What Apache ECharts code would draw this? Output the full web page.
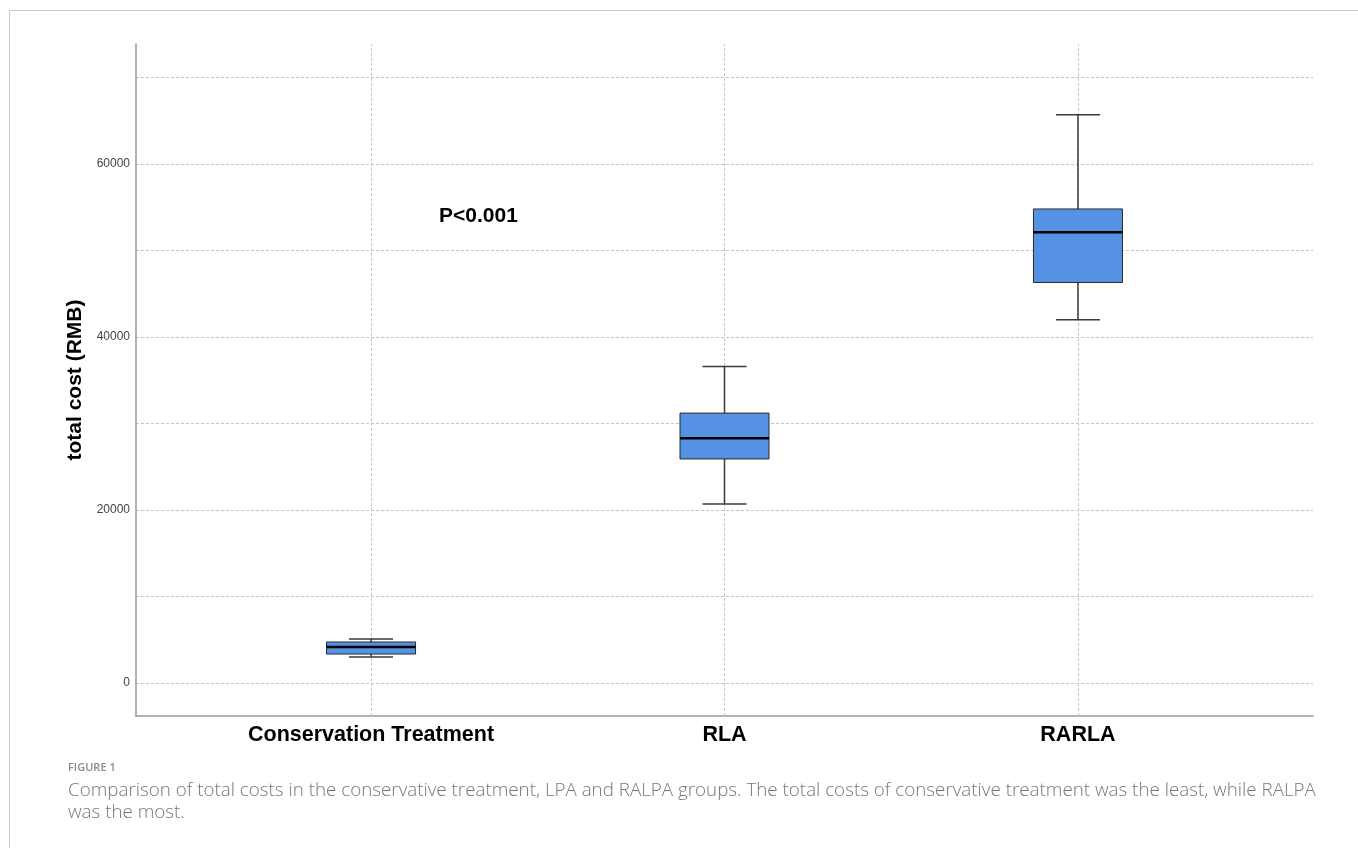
<!DOCTYPE html>
<html>
<head>
<meta charset="utf-8">
<script src="https://cdn.jsdelivr.net/npm/echarts@6/dist/echarts.min.js"></script>
<style>
html, body { margin: 0; padding: 0; background: #fff; }
#chart { width: 1358px; height: 848px; }
</style>
</head>
<body>
<div id="chart"></div>
<script>
// 分组与箱线图数值（从图上读取，单位 RMB）
var groups = ['Conservation Treatment', 'RLA', 'RARLA'];
var groupPos = [1, 2, 3];
var whiskerLow = [3000, 20700, 42000];
var quart1 = [3350, 25900, 46300];
var median = [4160, 28300, 52100];
var quart3 = [4740, 31200, 54800];
var whiskerHigh = [5090, 36600, 65700];
var yLabelValues = [0, 20000, 40000, 60000];

var boxData = [];
for (var i = 0; i < groups.length; i++) {
	boxData.push([groupPos[i], whiskerLow[i], quart1[i], median[i], quart3[i], whiskerHigh[i]]);
}
// 竖向网格线（每组中心）
var vLines = [];
for (var j = 0; j < groupPos.length; j++) {
	vLines.push({ xAxis: groupPos[j] });
}

function renderBox(params, api) {
	var x = api.value(0);
	var lo = api.coord([x, api.value(1)]);
	var q1 = api.coord([x, api.value(2)]);
	var md = api.coord([x, api.value(3)]);
	var q3 = api.coord([x, api.value(4)]);
	var hi = api.coord([x, api.value(5)]);
	var cx = lo[0];
	var halfBox = 44.5, halfCap = 22;
	var lineStyle = { stroke: '#3a3a3a', lineWidth: 1.5 };
	return {
		type: 'group',
		children: [
			{ type: 'line', shape: { x1: cx, y1: q3[1], x2: cx, y2: hi[1] }, style: lineStyle },
			{ type: 'line', shape: { x1: cx, y1: q1[1], x2: cx, y2: lo[1] }, style: lineStyle },
			{ type: 'line', shape: { x1: cx - halfCap, y1: hi[1], x2: cx + halfCap, y2: hi[1] }, style: lineStyle },
			{ type: 'line', shape: { x1: cx - halfCap, y1: lo[1], x2: cx + halfCap, y2: lo[1] }, style: lineStyle },
			{ type: 'rect', shape: { x: cx - halfBox, y: q3[1], width: halfBox * 2, height: q1[1] - q3[1] },
				style: { fill: '#5592e3', stroke: '#2b2b2b', lineWidth: 1 } },
			{ type: 'line', shape: { x1: cx - halfBox, y1: md[1], x2: cx + halfBox, y2: md[1] },
				style: { stroke: '#000', lineWidth: 2.5 } }
		]
	};
}

var option = {
	animation: false,
	grid: { left: 136, right: 45, top: 44, bottom: 132 },
	graphic: [
		{ type: 'line', shape: { x1: 9.5, y1: 10.5, x2: 1358, y2: 10.5 }, style: { stroke: '#c8c8c8', lineWidth: 1 } },
		{ type: 'line', shape: { x1: 9.5, y1: 10.5, x2: 9.5, y2: 848 }, style: { stroke: '#c8c8c8', lineWidth: 1 } },
		{ type: 'text', left: 439, top: 206, style: { text: 'P<0.001', fill: '#000', font: 'bold 21px "Liberation Sans", Arial' } },
		{ type: 'text', left: 68, top: 762, style: { text: 'FIGURE 1', fill: '#8a8a8a', font: '600 11px "Open Sans", "Noto Sans"' } },
		{ type: 'text', left: 68, top: 781, style: { text: 'Comparison of total costs in the conservative treatment, LPA and RALPA groups. The total costs of conservative treatment was the least, while RALPA', fill: '#777', font: '300 18.8px "Open Sans", "Noto Sans"' } },
		{ type: 'text', left: 68, top: 803, style: { text: 'was the most.', fill: '#777', font: '300 18.8px "Open Sans", "Noto Sans"' } }
	],
	xAxis: {
		type: 'value',
		min: 0.335,
		max: 3.665,
		axisLine: { show: true, onZero: false, lineStyle: { color: '#999', width: 1.5 } },
		axisTick: { show: false },
		axisLabel: {
			customValues: groupPos,
			margin: 8,
			color: '#000',
			fontSize: 21.5,
			fontWeight: 'bold',
			fontFamily: '"Liberation Sans", Arial',
			formatter: function(v) { return groups[Math.round(v) - 1]; }
		},
		splitLine: { show: false }
	},
	yAxis: {
		type: 'value',
		min: -3815,
		max: 73870,
		splitNumber: 8,
		name: 'total cost (RMB)',
		nameLocation: 'middle',
		nameGap: 50,
		nameTextStyle: { color: '#000', fontSize: 21, fontWeight: 'bold', fontFamily: '"Liberation Sans", Arial' },
		axisLine: { show: true, onZero: false, lineStyle: { color: '#999', width: 1.5 } },
		axisTick: { show: false },
		axisLabel: {
			color: '#444',
			fontSize: 12,
			margin: 6,
			fontFamily: '"Liberation Sans", Arial',
			showMinLabel: false,
			showMaxLabel: false,
			formatter: function(v) { return yLabelValues.indexOf(v) >= 0 ? String(v) : ''; }
		},
		splitLine: { show: true, showMinLine: false, showMaxLine: false, lineStyle: { color: '#c4c4c4', type: [3, 2] } }
	},
	series: [{
		type: 'custom',
		renderItem: renderBox,
		encode: { x: 0, y: [1, 2, 3, 4, 5] },
		data: boxData,
		z: 3,
		markLine: {
			silent: true,
			symbol: 'none',
			label: { show: false },
			lineStyle: { color: '#c4c4c4', type: [3, 2], width: 1 },
			z: 1,
			data: vLines
		}
	}]
};

var myChart = echarts.init(document.getElementById('chart'));
myChart.setOption(option);
</script>
</body>
</html>
